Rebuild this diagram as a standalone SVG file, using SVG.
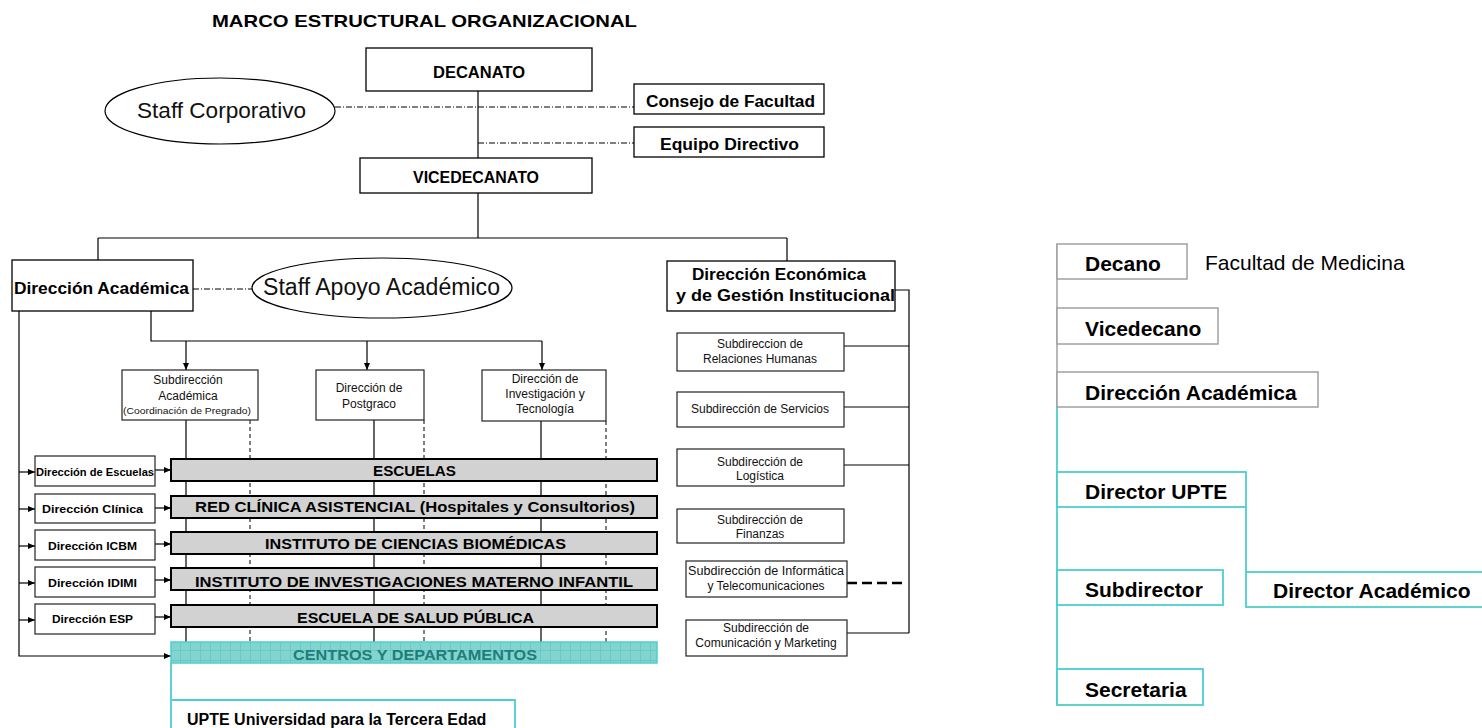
<svg xmlns="http://www.w3.org/2000/svg" width="1482" height="728" viewBox="0 0 1482 728">
<style>
.box{fill:#fff;stroke:#000;stroke-width:1.3}
.sbox{fill:#fff;stroke:#222;stroke-width:1.2}
.bar{fill:#d2d2d2;stroke:#000;stroke-width:2}
.ln{stroke:#000;stroke-width:1.2;fill:none}
.dash{stroke:#000;stroke-width:1;stroke-dasharray:6 2 1 2;fill:none}
.vd{stroke:#000;stroke-width:1;stroke-dasharray:4 3;fill:none}
.tb{font-family:"Liberation Sans",Arial,sans-serif;font-weight:bold;fill:#000}
.t{font-family:"Liberation Sans",Arial,sans-serif;fill:#111}
.s{font-family:"Liberation Sans",Arial,sans-serif;fill:#111;font-size:12px;text-anchor:middle}
.g{fill:#fff;stroke:#a0a0a0;stroke-width:1.5}
.c{fill:#fff;stroke:#4ccfcf;stroke-width:1.8}
.cl{stroke:#4ccfcf;stroke-width:1.8;fill:none}
.gl{stroke:#a0a0a0;stroke-width:1.5;fill:none}
.rt{font-family:"Liberation Sans",Arial,sans-serif;font-weight:bold;font-size:21px;fill:#000}
</style>
<defs>
<marker id="ar" markerWidth="7" markerHeight="6" refX="7" refY="3" orient="auto" markerUnits="userSpaceOnUse">
<path d="M0,0 L7,3 L0,6 z" fill="#000"/>
</marker>
<pattern id="grid" width="10" height="10" patternUnits="userSpaceOnUse">
<rect width="10" height="10" fill="#82d4d1"/>
<path d="M0,0 H10 M0,0 V10" stroke="#5cbcb8" stroke-width="1"/>
</pattern>
</defs>
<rect width="1482" height="728" fill="#fff"/>
<text class="tb" x="212" y="27" font-size="17" textLength="425" lengthAdjust="spacingAndGlyphs">MARCO ESTRUCTURAL ORGANIZACIONAL</text>

<g id="connectors">
<path class="ln" d="M478 91 V158 M478 193 V238 M98 238 H787 M98 238 V260 M787 238 V261"/>
<path class="dash" d="M335 107 H634 M478 143 H634 M193 289 H252"/>
<path class="ln" d="M151 311 V341 H542"/>
<path class="ln" marker-end="url(#ar)" d="M186 341 V370"/>
<path class="ln" marker-end="url(#ar)" d="M367 341 V370"/>
<path class="ln" marker-end="url(#ar)" d="M542 341 V370"/>
<path class="ln" d="M186 420 V663 M374 420 V663 M541 421 V663"/>
<path class="vd" d="M250 420 V663 M424 420 V663 M606 421 V663"/>
<path class="ln" marker-end="url(#ar)" d="M19 311 V656 H171"/>
<path class="ln" marker-end="url(#ar)" d="M19 472 H35"/>
<path class="ln" marker-end="url(#ar)" d="M19 509 H35"/>
<path class="ln" marker-end="url(#ar)" d="M19 546 H35"/>
<path class="ln" marker-end="url(#ar)" d="M19 583 H35"/>
<path class="ln" marker-end="url(#ar)" d="M19 620 H35"/>
<path class="ln" marker-end="url(#ar)" d="M155 470 H171"/>
<path class="ln" marker-end="url(#ar)" d="M155 508 H171"/>
<path class="ln" marker-end="url(#ar)" d="M155 544 H171"/>
<path class="ln" marker-end="url(#ar)" d="M155 580 H171"/>
<path class="ln" marker-end="url(#ar)" d="M155 617 H171"/>
<path class="ln" d="M895 290 H909 V633 M844 346 H909 M844 407 H909 M844 465 H909 M847 633 H909"/>
<path stroke="#000" stroke-width="2.5" stroke-dasharray="10 5" fill="none" d="M847 583 H907"/>
<path class="gl" d="M1057 244 V407"/>
<path class="cl" d="M1057 407 V705 M1246 507 V572"/>
<path class="cl" d="M171 663 V730 M171 700 H515 V730"/>
</g>

<g id="decanato"><rect class="box" x="366" y="48" width="226" height="43"/><text class="tb" x="433" y="78" font-size="17" textLength="92" lengthAdjust="spacingAndGlyphs">DECANATO</text></g>
<g id="staff-corporativo"><ellipse cx="220" cy="111" rx="115" ry="33" fill="#fff" stroke="#000" stroke-width="1.2"/><text class="t" x="137" y="118" font-size="22" textLength="169" lengthAdjust="spacingAndGlyphs">Staff Corporativo</text></g>
<g id="consejo"><rect class="box" x="634" y="84" width="190" height="30"/><text class="tb" x="646" y="107" font-size="16" textLength="169" lengthAdjust="spacingAndGlyphs">Consejo de Facultad</text></g>
<g id="equipo"><rect class="box" x="634" y="127" width="190" height="30"/><text class="tb" x="660" y="150" font-size="16" textLength="139" lengthAdjust="spacingAndGlyphs">Equipo Directivo</text></g>
<g id="vicedecanato"><rect class="box" x="360" y="158" width="232" height="35"/><text class="tb" x="413" y="183" font-size="17" textLength="126" lengthAdjust="spacingAndGlyphs">VICEDECANATO</text></g>
<g id="direccion-academica"><rect class="box" x="12" y="260" width="181" height="51"/><text class="tb" x="14" y="294" font-size="16" textLength="175" lengthAdjust="spacingAndGlyphs">Dirección Académica</text></g>
<g id="staff-apoyo"><ellipse cx="382" cy="288" rx="130" ry="30" fill="#fff" stroke="#000" stroke-width="1.2"/><text class="t" x="263" y="295" font-size="23" textLength="237" lengthAdjust="spacingAndGlyphs">Staff Apoyo Académico</text></g>
<g id="direccion-economica"><rect class="box" x="667" y="261" width="228" height="50"/><text class="tb" x="692" y="280" font-size="16" textLength="174" lengthAdjust="spacingAndGlyphs">Dirección Económica</text><text class="tb" x="676" y="301" font-size="16" textLength="219" lengthAdjust="spacingAndGlyphs">y de Gestión Institucional</text></g>

<g id="subdireccion-academica"><rect class="sbox" x="122" y="370" width="136" height="50"/><text class="s" x="188" y="384">Subdirección</text><text class="s" x="188" y="400">Académica</text><text class="t" x="123" y="414" font-size="8.5" textLength="128" lengthAdjust="spacingAndGlyphs">(Coordinación de Pregrado)</text></g>
<g id="postgrado"><rect class="sbox" x="316" y="370" width="108" height="50"/><text class="s" x="369" y="392">Dirección de</text><text class="s" x="369" y="408">Postgraco</text></g>
<g id="investigacion"><rect class="sbox" x="482" y="370" width="124" height="51"/><text class="s" x="545" y="383">Dirección de</text><text class="s" x="545" y="398">Investigación  y</text><text class="s" x="545" y="413">Tecnología</text></g>

<g id="rrhh"><rect class="sbox" x="677" y="333" width="167" height="38"/><text class="s" x="760" y="348">Subdireccion de</text><text class="s" x="760" y="363">Relaciones Humanas</text></g>
<g id="servicios"><rect class="sbox" x="677" y="392" width="167" height="35"/><text class="s" x="760" y="413">Subdirección de Servicios</text></g>
<g id="logistica"><rect class="sbox" x="677" y="449" width="167" height="37"/><text class="s" x="760" y="466">Subdirección de</text><text class="s" x="760" y="480">Logística</text></g>
<g id="finanzas"><rect class="sbox" x="677" y="509" width="167" height="34"/><text class="s" x="760" y="524">Subdirección de</text><text class="s" x="760" y="538">Finanzas</text></g>
<g id="informatica"><rect class="sbox" x="686" y="561" width="161" height="36"/><text class="s" x="766" y="575" textLength="156" lengthAdjust="spacingAndGlyphs">Subdirección de Informática</text><text class="s" x="766" y="590">y Telecomunicaciones</text></g>
<g id="comunicacion"><rect class="sbox" x="686" y="620" width="161" height="36"/><text class="s" x="766" y="632">Subdirección de</text><text class="s" x="766" y="647">Comunicación y Marketing</text></g>

<g id="dir-escuelas"><rect class="sbox" x="35" y="456" width="120" height="30"/><text class="tb" x="36" y="476" font-size="10" textLength="118" lengthAdjust="spacingAndGlyphs">Dirección de Escuelas</text></g>
<g id="dir-clinica"><rect class="sbox" x="35" y="494" width="120" height="29"/><text class="tb" x="42" y="513" font-size="10" textLength="101" lengthAdjust="spacingAndGlyphs">Dirección Clínica</text></g>
<g id="dir-icbm"><rect class="sbox" x="35" y="530" width="120" height="30"/><text class="tb" x="48" y="550" font-size="10" textLength="89" lengthAdjust="spacingAndGlyphs">Dirección ICBM</text></g>
<g id="dir-idimi"><rect class="sbox" x="35" y="567" width="120" height="30"/><text class="tb" x="48" y="587" font-size="10" textLength="89" lengthAdjust="spacingAndGlyphs">Dirección IDIMI</text></g>
<g id="dir-esp"><rect class="sbox" x="35" y="604" width="120" height="30"/><text class="tb" x="52" y="623" font-size="10" textLength="81" lengthAdjust="spacingAndGlyphs">Dirección ESP</text></g>

<g id="escuelas"><rect class="bar" x="171" y="459" width="486" height="22"/><text class="tb" x="373" y="476" font-size="15" textLength="83" lengthAdjust="spacingAndGlyphs">ESCUELAS</text></g>
<g id="red-clinica"><rect class="bar" x="171" y="496" width="486" height="22"/><text class="tb" x="195" y="512" font-size="15" textLength="440" lengthAdjust="spacingAndGlyphs">RED CLÍNICA ASISTENCIAL (Hospitales y Consultorios)</text></g>
<g id="icbm"><rect class="bar" x="171" y="532" width="486" height="22"/><text class="tb" x="265" y="549" font-size="15" textLength="301" lengthAdjust="spacingAndGlyphs">INSTITUTO DE CIENCIAS BIOMÉDICAS</text></g>
<g id="idimi"><rect class="bar" x="171" y="568" width="486" height="22"/><text class="tb" x="195" y="587" font-size="15" textLength="438" lengthAdjust="spacingAndGlyphs">INSTITUTO DE INVESTIGACIONES MATERNO INFANTIL</text></g>
<g id="esp"><rect class="bar" x="171" y="605" width="486" height="22"/><text class="tb" x="297" y="623" font-size="15" textLength="237" lengthAdjust="spacingAndGlyphs">ESCUELA DE SALUD PÚBLICA</text></g>
<g id="centros"><rect x="171" y="642" width="486" height="21" fill="url(#grid)" stroke="#4ccfcf" stroke-width="1.5"/><text class="tb" x="293" y="660" font-size="15" style="fill:#1f7d7a" textLength="244" lengthAdjust="spacingAndGlyphs">CENTROS Y DEPARTAMENTOS</text></g>
<g id="upte"><text class="tb" x="187" y="725" font-size="16">UPTE Universidad para la Tercera Edad</text></g>

<g id="decano"><rect class="g" x="1057" y="244" width="130" height="35"/><text class="rt" x="1085" y="271">Decano</text></g>
<g id="facultad"><text class="t" x="1205" y="270" font-size="21" style="fill:#000">Facultad de Medicina</text></g>
<g id="vicedecano"><rect class="g" x="1057" y="308" width="161" height="36"/><text class="rt" x="1085" y="336">Vicedecano</text></g>
<g id="dir-acad-r"><rect class="g" x="1057" y="372" width="261" height="35"/><text class="rt" x="1085" y="400">Dirección Académica</text></g>
<g id="director-upte"><rect class="c" x="1057" y="472" width="189" height="35"/><text class="rt" x="1085" y="499">Director UPTE</text></g>
<g id="subdirector"><rect class="c" x="1057" y="570" width="166" height="35"/><text class="rt" x="1085" y="597">Subdirector</text></g>
<g id="director-academico"><rect class="c" x="1246" y="572" width="250" height="35"/><text class="rt" x="1273" y="598">Director Académico</text></g>
<g id="secretaria"><rect class="c" x="1057" y="669" width="146" height="36"/><text class="rt" x="1085" y="697">Secretaria</text></g>
</svg>
